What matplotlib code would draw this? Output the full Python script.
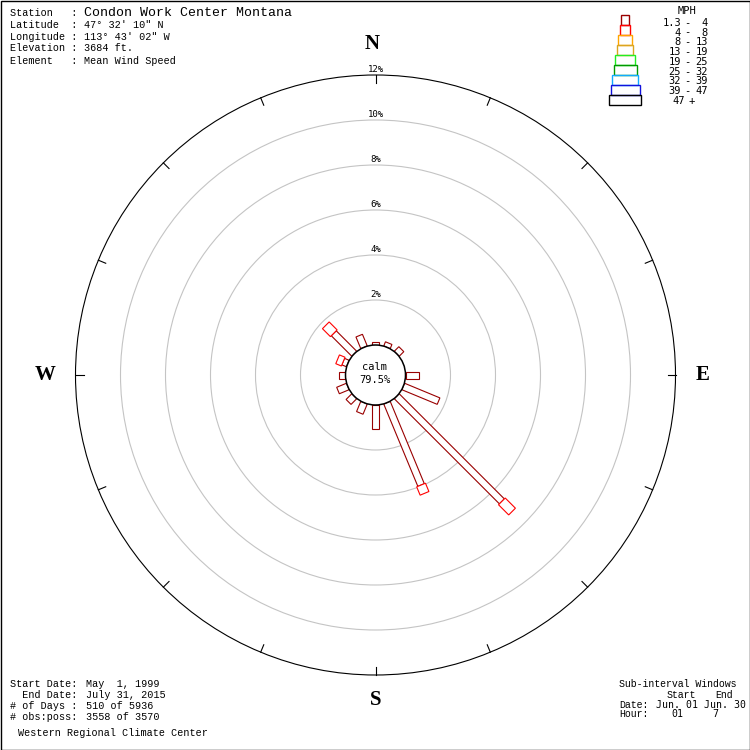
import numpy as np
import matplotlib
matplotlib.use("Agg")
import matplotlib.pyplot as plt
from matplotlib.patches import Polygon, Circle, Rectangle

# ---------------- data ----------------
directions = [0, 22.5, 45, 67.5, 90, 112.5, 135, 157.5,
              180, 202.5, 225, 247.5, 270, 292.5, 315, 337.5]
# percent frequency per speed bin
bin_1_3_4 = [0.15, 0.20, 0.29, 0.0, 0.58, 1.70, 6.61, 3.96,
             1.08, 0.49, 0.36, 0.47, 0.27, 0.22, 1.29, 0.56]
bin_4_8 = [0.0, 0.0, 0.0, 0.0, 0.0, 0.0, 0.64, 0.40,
           0.0, 0.0, 0.0, 0.0, 0.0, 0.27, 0.50, 0.0]
calm_pct = 79.5
ring_pcts = [2, 4, 6, 8, 10, 12]
speed_labels = ["1.3 - 4", "4 - 8", "8 - 13", "13 - 19", "19 - 25",
                "25 - 32", "32 - 39", "39 - 47", "47 +"]
speed_colors = ["#990000", "#ff0000", "#ffa500", "#daa520", "#22ee22",
                "#009900", "#11aaff", "#1111dd", "#000000"]
compass = ["N", "E", "S", "W"]

header_labels = ["Station   :", "Latitude  :", "Longitude :", "Elevation :", "Element   :"]
header_values = ["Condon Work Center Montana", "47\u00b0 32' 10\" N", "113\u00b0 43' 02\" W",
                 "3684 ft.", "Mean Wind Speed"]
footer_labels = ["Start Date:", "  End Date:", "# of Days :", "# obs:poss:"]
footer_values = ["May  1, 1999", "July 31, 2015", "510 of 5936", "3558 of 3570"]

# ---------------- layout / style ----------------
CX, CY = 375.5, 375.0
CALM_R = 30.0
PX_PER_PCT = 22.5
bar_widths = [7, 9.5, 14, 16, 19, 23, 25, 29, 32]
legend_widths = [8, 10, 14, 16, 19.5, 23, 25.5, 29, 32.5]
LW = 0.8
MONO = "Liberation Mono"
SANSMONO = "DejaVu Sans Mono"

def rad(p):
    return CALM_R + p * PX_PER_PCT

def xy(theta_deg, r):
    t = np.deg2rad(theta_deg)
    return CX + r * np.sin(t), CY - r * np.cos(t)

fig = plt.figure(figsize=(7.5, 7.5), dpi=100)
ax = fig.add_axes([0, 0, 1, 1])
ax.set_xlim(0, 750)
ax.set_ylim(750, 0)
ax.set_aspect("equal")
ax.axis("off")

# frame
ax.add_patch(Rectangle((0.5, 0.5), 749, 749, fill=False, ec="black", lw=1.0, zorder=10))

# rings
for p in ring_pcts:
    r = rad(p)
    outer = p == ring_pcts[-1]
    ax.add_patch(Circle((CX, CY), r, fill=False,
                        ec="black" if outer else "#c4c4c4", lw=LW, zorder=1))
    ax.text(CX, CY - r - 5.5, f"{p}%", ha="center", va="center",
            fontsize=6.5, family=SANSMONO, color="black", zorder=2)

# ticks on outer ring
R_OUT = rad(ring_pcts[-1])
for d in np.arange(0, 360, 22.5):
    x0, y0 = xy(d, R_OUT)
    x1, y1 = xy(d, R_OUT - 8)
    ax.plot([x0, x1], [y0, y1], color="black", lw=LW, zorder=2)

# compass letters (angle, radius, x-nudge)
letter_pos = {"N": (0, 331, -3), "E": (90, 327.5, 0), "S": (180, 325, 0), "W": (270, 330.5, 0)}
for c in compass:
    d, r, dx = letter_pos[c]
    x, y = xy(d, r)
    ax.text(x + dx, y, c, ha="center", va="center", fontsize=15,
            family="Liberation Serif", fontweight="bold", zorder=3)

# rose bars
def bar(theta, r0, r1, w, color):
    t = np.deg2rad(theta)
    nx, ny = np.cos(t), np.sin(t)
    x0, y0 = xy(theta, r0)
    x1, y1 = xy(theta, r1)
    h = w / 2
    pts = [(x0 + nx * h, y0 + ny * h), (x1 + nx * h, y1 + ny * h),
           (x1 - nx * h, y1 - ny * h), (x0 - nx * h, y0 - ny * h)]
    ax.add_patch(Polygon(pts, closed=True, fc="white", ec=color, lw=LW, zorder=4))

for d, b1, b2 in zip(directions, bin_1_3_4, bin_4_8):
    start = 0.0
    for i, v in enumerate([b1, b2]):
        if v > 0:
            bar(d, rad(start), rad(start + v), bar_widths[i], speed_colors[i])
        start += v

# calm circle
ax.add_patch(Circle((CX, CY), CALM_R, fc="white", ec="black", lw=1.1, zorder=5))
ax.text(CX - 1, CY - 7.5, "calm", ha="center", va="center", fontsize=7.5,
        family=SANSMONO, zorder=6)
ax.text(CX - 1, CY + 5, f"{calm_pct}%", ha="center", va="center", fontsize=7.5,
        family=SANSMONO, zorder=6)

# header text
hy = [13.3, 25, 36.5, 48.3, 60.5]
for i, (lab, val) in enumerate(zip(header_labels, header_values)):
    ax.text(10.5, hy[i], lab, ha="left", va="center", fontsize=7.3, family=MONO)
    if i == 0:
        ax.text(84.5, hy[i], val, ha="left", va="center", fontsize=9.5, family=MONO)
    else:
        ax.text(83.5, hy[i], val, ha="left", va="center", fontsize=7.3, family=MONO)

# footer left
fy = [684, 695, 706, 717.3]
for i, (lab, val) in enumerate(zip(footer_labels, footer_values)):
    ax.text(10.5, fy[i], lab, ha="left", va="center", fontsize=7.3, family=MONO)
    ax.text(86, fy[i], val, ha="left", va="center", fontsize=7.3, family=MONO)
ax.text(18, 733, "Western Regional Climate Center", ha="left", va="center",
        fontsize=7.3, family=MONO)

# footer right
ax.text(619, 684, "Sub-interval Windows", ha="left", va="center", fontsize=7.1, family=MONO)
ax.text(667, 695, "Start", ha="left", va="center", fontsize=7.1, family=MONO)
ax.text(715, 695, "End", ha="left", va="center", fontsize=7.1, family=MONO)
ax.text(619, 704.5, "Date:", ha="left", va="center", fontsize=7.1, family=MONO)
ax.text(656, 704.5, "Jun. 01 Jun. 30", ha="left", va="center", fontsize=7.1, family=SANSMONO)
ax.text(619, 714, "Hour:", ha="left", va="center", fontsize=7.1, family=MONO)
ax.text(671.5, 714, "01", ha="left", va="center", fontsize=7.1, family=SANSMONO)
ax.text(712.5, 714, "7", ha="left", va="center", fontsize=7.1, family=SANSMONO)

# legend
LX = 625
ax.text(686.5, 11, "MPH", ha="center", va="center", fontsize=7.5, family=SANSMONO)
top = 15.0
row_h = 10.0
for i, (lab, col) in enumerate(zip(speed_labels, speed_colors)):
    w = legend_widths[i]
    ax.add_patch(Rectangle((LX - w / 2, top + i * row_h), w, row_h, fill=False,
                           ec=col, lw=1.0, zorder=3))
    ty = 22.7 + i * 9.8
    parts = lab.split(" ")
    if len(parts) == 3:
        ax.text(681, ty, parts[0], ha="right", va="center", fontsize=7.5, family=SANSMONO)
        ax.text(687, ty, "-", ha="center", va="center", fontsize=7.5, family=SANSMONO)
        ax.text(708, ty, parts[2], ha="right", va="center", fontsize=7.5, family=SANSMONO)
    else:
        ax.text(684.5, ty, parts[0], ha="right", va="center", fontsize=7.5, family=SANSMONO)
        ax.text(691.5, ty, parts[1], ha="center", va="center", fontsize=7.5, family=SANSMONO)

fig.savefig("out.png", dpi=100, facecolor="white")
